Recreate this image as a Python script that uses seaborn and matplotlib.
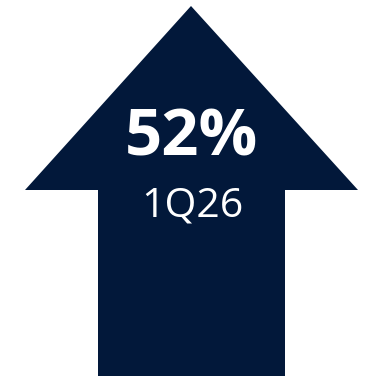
import matplotlib
matplotlib.use("Agg")
import matplotlib.pyplot as plt
import seaborn as sns

# data
value = 52
period = "1Q26"

# arrow shape (canvas units, y down)
tip = (191, 6)
head_y = 190
head_left, head_right = 25, 358
shaft_left, shaft_right = 98, 285
shaft_bottom = 376
navy = "#02183A"

sns.set_theme(style="white")
plt.rcParams["font.family"] = ["Open Sans", "DejaVu Sans"]

fig = plt.figure(figsize=(3.68, 3.77), dpi=100)
ax = fig.add_axes([0, 0, 1, 1])
ax.set_xlim(0, 368)
ax.set_ylim(377, 0)
ax.axis("off")

xs = [tip[0], head_right, shaft_right, shaft_right, shaft_left, shaft_left, head_left]
ys = [tip[1], head_y, head_y, shaft_bottom, shaft_bottom, head_y, head_y]
ax.fill(xs, ys, color=navy, lw=0)

ax.text(191.5, 139, f"{value}%", color="white", fontsize=47, fontweight="bold",
        ha="center", va="center")
ax.text(192, 206, period, color="white", fontsize=29.5, ha="center", va="center")

fig.savefig("out.png", dpi=100)
